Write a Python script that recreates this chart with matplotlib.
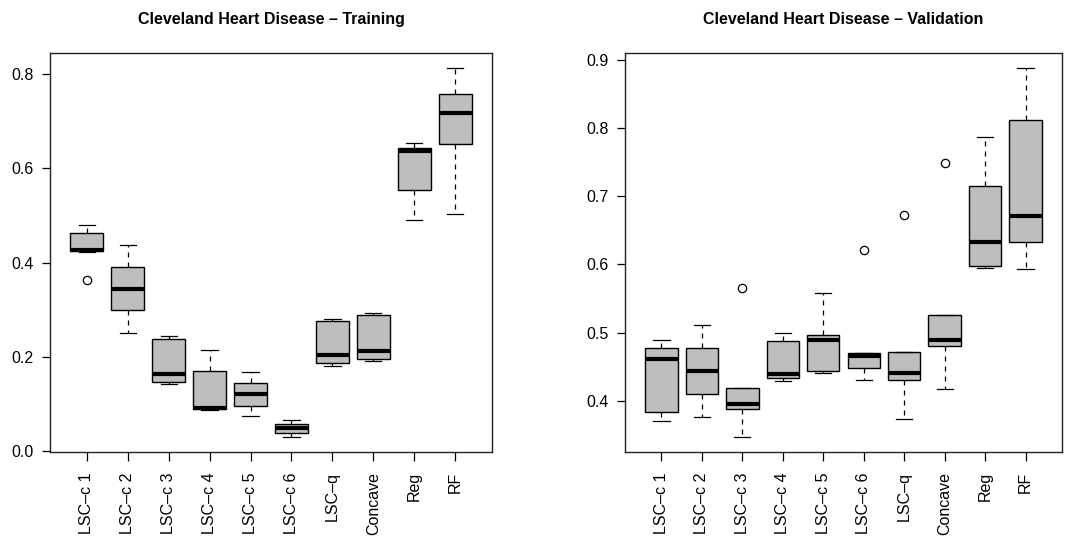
import matplotlib
matplotlib.use("Agg")
import matplotlib.pyplot as plt

plt.rcParams['font.family'] = ['Liberation Sans', 'DejaVu Sans']

methods = ["LSC\u2013c 1", "LSC\u2013c 2", "LSC\u2013c 3", "LSC\u2013c 4", "LSC\u2013c 5",
           "LSC\u2013c 6", "LSC\u2013q", "Concave", "Reg", "RF"]

# five-number summaries: lower whisker, q1, median, q3, upper whisker
train_low = [0.423, 0.251, 0.143, 0.088, 0.074, 0.030, 0.182, 0.191, 0.491, 0.504]
train_q1 = [0.424, 0.299, 0.148, 0.090, 0.097, 0.039, 0.187, 0.195, 0.553, 0.652]
train_med = [0.427, 0.345, 0.164, 0.092, 0.121, 0.049, 0.204, 0.212, 0.636, 0.717]
train_q3 = [0.462, 0.391, 0.239, 0.171, 0.144, 0.057, 0.277, 0.289, 0.642, 0.758]
train_high = [0.480, 0.438, 0.245, 0.215, 0.168, 0.067, 0.281, 0.294, 0.654, 0.813]
train_out = [[0.363], [], [], [], [], [], [], [], [], []]

valid_low = [0.371, 0.377, 0.347, 0.430, 0.441, 0.431, 0.374, 0.417, 0.595, 0.593]
valid_q1 = [0.384, 0.410, 0.389, 0.434, 0.444, 0.448, 0.431, 0.480, 0.598, 0.633]
valid_med = [0.462, 0.444, 0.396, 0.439, 0.489, 0.466, 0.441, 0.490, 0.633, 0.671]
valid_q3 = [0.478, 0.478, 0.419, 0.488, 0.496, 0.470, 0.472, 0.526, 0.715, 0.811]
valid_high = [0.490, 0.512, 0.419, 0.499, 0.558, 0.470, 0.472, 0.526, 0.787, 0.888]
valid_out = [[], [], [0.566], [], [], [0.621], [0.672], [0.748], [], []]


def make_stats(low, q1, med, q3, high, out):
    stats = []
    for i in range(len(methods)):
        stats.append(dict(whislo=low[i], q1=q1[i], med=med[i], q3=q3[i],
                          whishi=high[i], fliers=out[i], label=methods[i]))
    return stats


def draw(ax, stats, title, yticks):
    ax.bxp(stats, positions=range(1, len(stats) + 1), widths=0.8,
           patch_artist=True, showfliers=True,
           boxprops=dict(facecolor="#bebebe", edgecolor="black", linewidth=1),
           medianprops=dict(color="black", linewidth=3, solid_capstyle="butt"),
           whiskerprops=dict(color="black", linewidth=0.9, linestyle=(0, (4, 4))),
           capprops=dict(color="black", linewidth=0.9),
           capwidths=0.4,
           flierprops=dict(marker="o", markerfacecolor="none", markeredgecolor="black",
                           markersize=6, markeredgewidth=0.9))
    # R-style 4% padding around the data range
    lo = min([s["whislo"] for s in stats] + [f for s in stats for f in s["fliers"]])
    hi = max([s["whishi"] for s in stats] + [f for s in stats for f in s["fliers"]])
    pad = (hi - lo) * 0.04
    ax.set_ylim(lo - pad, hi + pad)
    ax.set_xlim(0.1, len(stats) + 0.9)
    ax.set_yticks(yticks)
    ax.set_yticklabels([f"{t:.1f}" for t in yticks])
    ax.tick_params(axis="y", length=6, width=0.9, pad=6, labelsize=11.5)
    ax.tick_params(axis="x", length=6.5, width=0.9, pad=8, labelsize=11.5, labelrotation=90)
    for sp in ax.spines.values():
        sp.set_linewidth(1)
        sp.set_color("#222222")
    ax.set_title(title, fontsize=11.5, fontweight="bold", pad=21)


fig = plt.figure(figsize=(10.79, 5.37), dpi=100)
ax1 = fig.add_axes([50 / 1079, 1 - 452 / 537, 442 / 1079, 399 / 537])
ax2 = fig.add_axes([625 / 1079, 1 - 452 / 537, 437 / 1079, 399 / 537])

draw(ax1, make_stats(train_low, train_q1, train_med, train_q3, train_high, train_out),
     "Cleveland Heart Disease \u2013 Training", [0.0, 0.2, 0.4, 0.6, 0.8])
draw(ax2, make_stats(valid_low, valid_q1, valid_med, valid_q3, valid_high, valid_out),
     "Cleveland Heart Disease \u2013 Validation", [0.4, 0.5, 0.6, 0.7, 0.8, 0.9])

fig.savefig("out.png", dpi=100)
